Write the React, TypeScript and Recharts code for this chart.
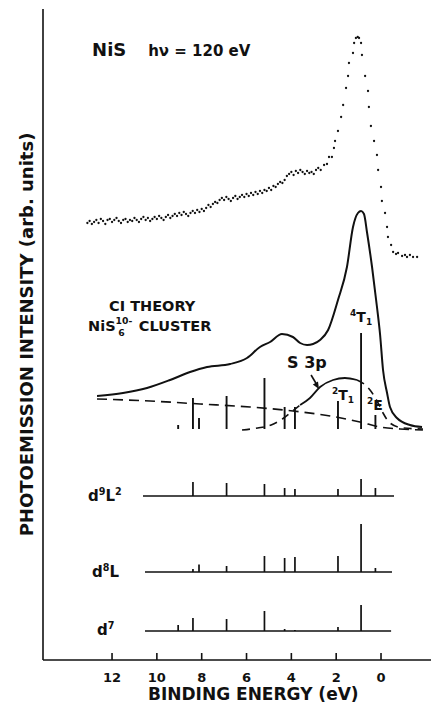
import { ComposedChart, Line, Scatter, XAxis, YAxis, ReferenceLine, ReferenceDot } from 'recharts';

const FONT = '"DejaVu Sans", "Liberation Sans", Arial, sans-serif';
const INK = '#111';

// binding energy axis (eV)
const energyTicks = [12, 10, 8, 6, 4, 2, 0];

// measured spectrum, NiS hv = 120 eV (dots)
const expEnergy = [
  13.1, 13.0, 12.9, 12.8, 12.7, 12.6, 12.5, 12.4, 12.3, 12.2,
  12.1, 12.0, 11.9, 11.8, 11.7, 11.6, 11.5, 11.4, 11.3, 11.2,
  11.1, 11.0, 10.9, 10.8, 10.7, 10.6, 10.5, 10.4, 10.3, 10.2,
  10.1, 10.0, 9.9, 9.8, 9.7, 9.6, 9.5, 9.4, 9.3, 9.2,
  9.1, 9.0, 8.9, 8.8, 8.7, 8.6, 8.5, 8.4, 8.3, 8.2,
  8.1, 8.0, 7.9, 7.8, 7.7, 7.6, 7.5, 7.4, 7.3, 7.2,
  7.1, 7.0, 6.9, 6.8, 6.7, 6.6, 6.5, 6.4, 6.3, 6.2,
  6.1, 6.0, 5.9, 5.8, 5.7, 5.6, 5.5, 5.4, 5.3, 5.2,
  5.1, 5.0, 4.9, 4.8, 4.7, 4.6, 4.5, 4.4, 4.3, 4.2,
  4.1, 4.0, 3.9, 3.8, 3.7, 3.6, 3.5, 3.4, 3.3, 3.2,
  3.1, 3.0, 2.9, 2.8,
  2.69, 2.54, 2.41, 2.32, 2.19, 2.1, 2.05, 1.92, 1.78, 1.69,
  1.56, 1.47, 1.43, 1.25, 1.2, 1.12, 1.04, 0.98, 0.89, 0.85,
  0.71, 0.58, 0.54, 0.45, 0.31, 0.18, 0.13, 0.0, -0.04, -0.18,
  -0.27, -0.31, -0.45, -0.54, -0.67, -0.76, -0.94, -1.07, -1.16, -1.29,
  -1.43, -1.61,
];
const expIntensity = [
  437, 439, 436, 438, 440, 437, 441, 439, 436, 440,
  441, 438, 440, 442, 439, 437, 440, 441, 438, 440,
  439, 442, 440, 438, 441, 443, 440, 442, 439, 441,
  443, 441, 444, 442, 440, 443, 445, 442, 444, 446,
  444, 447, 445, 448, 446, 444, 447, 449, 447, 450,
  448, 451, 449, 452, 455, 453, 456, 458, 457, 460,
  462, 460, 463, 461, 459, 462, 464, 461, 463, 465,
  463, 466, 464, 467, 465, 468, 466, 469, 467, 470,
  469, 472, 470, 474, 473, 476, 478, 477, 480, 484,
  486, 488, 485, 489, 487, 490, 488, 486, 489, 487,
  488, 486, 490, 492,
  490, 495, 496, 503, 503, 512, 519, 529, 543, 555,
  572, 584, 597, 607, 617, 622, 623, 622, 617, 605,
  584, 569, 553, 534, 519, 505, 490, 473, 459, 447,
  433, 423, 415, 408, 406, 407, 404, 405, 403, 405,
  403, 403,
];

// CI theory, NiS6 10- cluster (broadened)
const theoryEnergy = [
  12.67, 11.51, 10.44, 9.41, 8.52, 7.76, 6.73, 5.98, 5.4, 4.95, 4.42, 3.93, 3.61, 3.3, 3.03, 2.72, 2.36,
  1.92, 1.52, 1.25, 1.03, 0.89, 0.76, 0.62, 0.4, 0.18, 0.04, -0.09, -0.27, -0.4, -0.71, -1.29, -1.83,
];
const theoryIntensity = [
  264, 267, 272, 280, 288, 293, 296, 302, 313, 318, 326, 323, 317, 315, 316, 320, 330,
  360, 393, 433, 447, 449, 446, 427, 393, 353, 325, 290, 267, 253, 242, 235, 233,
];

// background (dashed)
const bgEnergy = [12.67, 10.3, 8.07, 5.84, 3.93, 2.27, 0.94, 0.04, -0.85, -1.87];
const bgIntensity = [261, 259, 256, 253, 249, 244, 238, 233, 231, 230];

// S 3p band
const s3pTailEnergy = [6.2, 5.5, 4.9, 4.4, 4.0, 3.61];
const s3pTailIntensity = [230, 232, 235, 241, 248, 255];
const s3pEnergy = [3.61, 3.17, 2.72, 2.14, 1.61, 1.07];
const s3pIntensity = [255, 262, 273, 280, 282, 280];
const s3pRightEnergy = [1.07, 0.76, 0.49, 0.13, -0.09, -0.4, -0.98, -1.87];
const s3pRightIntensity = [280, 276, 270, 257, 247, 237, 232, 231];

// final-state lines (eV) and weights
const lineEnergy = [9.05, 8.39, 8.12, 6.89, 5.2, 4.3, 3.84, 1.92, 0.89, 0.25];
const theoryWeights = [4, 31, 11, 33, 51, 22, 22, 28, 96, 14];
const d9L2Weights = [0, 14, 0, 13, 12, 8, 7, 7, 17, 8];
const d8LWeights = [0, 3, 7.5, 6, 16, 14, 15, 16, 48, 4];
const d7Weights = [6, 13, 0, 12, 20, 2, 1, 4, 26, 0];

const zip = (es: number[], is: number[]) => es.map((e, k) => ({ e, i: is[k] }));

const stickTrace = (w: number[], base: number, from: number, to: number) => {
  const pts = [{ e: from, i: base }];
  lineEnergy.forEach((e, k) => {
    if (w[k] > 0) pts.push({ e, i: base }, { e, i: base + w[k] }, { e, i: base });
  });
  pts.push({ e: to, i: base });
  return pts;
};

const expData = zip(expEnergy, expIntensity);
const theoryData = zip(theoryEnergy, theoryIntensity);
const bgData = zip(bgEnergy, bgIntensity);
const s3pTail = zip(s3pTailEnergy, s3pTailIntensity);
const s3pData = zip(s3pEnergy, s3pIntensity);
const s3pRight = zip(s3pRightEnergy, s3pRightIntensity);
const d9L2Data = stickTrace(d9L2Weights, 164, 10.62, -0.58);
const d8LData = stickTrace(d8LWeights, 88, 10.53, -0.49);
const d7Data = stickTrace(d7Weights, 29, 10.53, -0.45);
const THEORY_BASE = 231;

type Part = { t: string; sup?: boolean; sub?: boolean; dx?: number; lift?: number };

const note = (parts: Part[], size: number, anchor: 'start' | 'middle' = 'start') => (p: any) => {
  let cur = 0;
  return (
    <text x={p.cx} y={p.cy} fontSize={size} fontWeight="bold" fontFamily={FONT} fill={INK} textAnchor={anchor}>
      {parts.map((q, k) => {
        const target = q.lift !== undefined ? q.lift : q.sup ? -size * 0.42 : q.sub ? size * 0.22 : 0;
        const dy = target - cur;
        cur = target;
        return (
          <tspan key={k} dy={dy} dx={q.dx} fontSize={q.sup || q.sub ? size * 0.64 : size}>
            {q.t}
          </tspan>
        );
      })}
    </text>
  );
};

const BottomTick = (props: any) => {
  const { x, y, payload } = props;
  return (
    <g>
      <line x1={x} x2={x} y1={y} y2={y - 7} stroke={INK} strokeWidth={1.6} />
      <text x={x} y={y + 22} textAnchor="middle" fontSize={13} fontWeight="bold" fontFamily={FONT} fill={INK}>
        {payload.value}
      </text>
    </g>
  );
};

const TopTick = (props: any) => {
  const { x, y } = props;
  return <line x1={x} x2={x} y1={y} y2={y + 7} stroke={INK} strokeWidth={1.6} />;
};

const Dot = (p: any) => <circle cx={p.cx} cy={p.cy} r={1.15} fill={INK} />;

const ArrowHead = (p: any) => (
  <polygon
    points={`${p.cx},${p.cy} ${p.cx - 6.1},${p.cy - 4.6} ${p.cx - 0.9},${p.cy - 7.6}`}
    fill={INK}
  />
);

export default function App() {
  return (
    <div style={{ position: 'absolute', left: 0, top: 0, background: '#fff' }}>
      <ComposedChart width={431} height={704} margin={{ top: 9, right: 0, bottom: 0, left: 0 }}>
        <XAxis
          dataKey="e"
          type="number"
          domain={[-2.23, 15.08]}
          reversed
          allowDataOverflow
          ticks={energyTicks}
          height={44}
          tickSize={0}
          tickMargin={0}
          tickLine={false}
          tick={<BottomTick />}
          axisLine={{ stroke: INK, strokeWidth: 1.6 }}
          label={(lp: any) => {
            const vb = lp.viewBox;
            return (
              <text
                x={vb.x + vb.width * 0.542}
                y={vb.y + 40}
                textAnchor="middle"
                fontSize={17}
                fontWeight="bold"
                fontFamily={FONT}
                fill={INK}
              >
                BINDING ENERGY (eV)
              </text>
            );
          }}
        />
        <XAxis
          xAxisId="top"
          orientation="top"
          dataKey="e"
          type="number"
          domain={[-2.23, 15.08]}
          reversed
          allowDataOverflow
          ticks={energyTicks}
          height={0}
          tickSize={0}
          tickMargin={0}
          tickLine={false}
          tick={<TopTick />}
          axisLine={{ stroke: INK, strokeWidth: 1.6 }}
        />
        <YAxis
          type="number"
          domain={[0, 651]}
          allowDataOverflow
          width={43}
          tick={false}
          tickLine={false}
          axisLine={{ stroke: INK, strokeWidth: 1.6 }}
          label={(lp: any) => {
            const vb = lp.viewBox;
            const cx = vb.x + 26;
            const cy = vb.y + vb.height / 2;
            return (
              <text
                x={cx}
                y={cy}
                transform={`rotate(-90, ${cx}, ${cy})`}
                textAnchor="middle"
                dominantBaseline="central"
                fontSize={18}
                fontWeight="bold"
                fontFamily={FONT}
                fill={INK}
              >
                PHOTOEMISSION INTENSITY (arb. units)
              </text>
            );
          }}
        />

        <Scatter data={expData} dataKey="i" shape={<Dot />} isAnimationActive={false} />

        <Line data={theoryData} dataKey="i" type="monotone" stroke={INK} strokeWidth={2} dot={false} activeDot={false} isAnimationActive={false} />
        <Line data={bgData} dataKey="i" type="monotone" stroke={INK} strokeWidth={1.6} strokeDasharray="10 6" dot={false} activeDot={false} isAnimationActive={false} />
        <Line data={s3pTail} dataKey="i" type="monotone" stroke={INK} strokeWidth={1.6} strokeDasharray="8 6" dot={false} activeDot={false} isAnimationActive={false} />
        <Line data={s3pData} dataKey="i" type="monotone" stroke={INK} strokeWidth={1.8} dot={false} activeDot={false} isAnimationActive={false} />
        <Line data={s3pRight} dataKey="i" type="monotone" stroke={INK} strokeWidth={1.6} strokeDasharray="8 6" dot={false} activeDot={false} isAnimationActive={false} />

        {lineEnergy.map((e, k) => (
          <ReferenceLine
            key={`th${k}`}
            segment={[{ x: e, y: THEORY_BASE }, { x: e, y: THEORY_BASE + theoryWeights[k] }]}
            stroke={INK}
            strokeWidth={1.9}
            ifOverflow="visible"
          />
        ))}

        <Line data={d9L2Data} dataKey="i" type="linear" stroke={INK} strokeWidth={1.7} dot={false} activeDot={false} isAnimationActive={false} />
        <Line data={d8LData} dataKey="i" type="linear" stroke={INK} strokeWidth={1.7} dot={false} activeDot={false} isAnimationActive={false} />
        <Line data={d7Data} dataKey="i" type="linear" stroke={INK} strokeWidth={1.7} dot={false} activeDot={false} isAnimationActive={false} />

        <ReferenceLine segment={[{ x: 3.12, y: 285 }, { x: 2.83, y: 274 }]} stroke={INK} strokeWidth={1.6} ifOverflow="visible" />
        <ReferenceDot x={2.77} y={271} r={0} ifOverflow="visible" shape={ArrowHead} />

        <ReferenceDot x={12.89} y={604} r={0} ifOverflow="visible" shape={note([{ t: 'NiS' }], 18)} />
        <ReferenceDot x={10.39} y={604} r={0} ifOverflow="visible" shape={note([{ t: 'hν = 120 eV' }], 15)} />
        <ReferenceDot x={10.21} y={349} r={0} ifOverflow="visible" shape={note([{ t: 'CI THEORY' }], 14.5, 'middle')} />
        <ReferenceDot
          x={13.07}
          y={329}
          r={0}
          ifOverflow="visible"
          shape={note(
            [
              { t: 'NiS' },
              { t: '10-', sup: true, lift: -7.5 },
              { t: '6', sub: true, lift: 4.5, dx: -14 },
              { t: ' CLUSTER', dx: 9 },
            ],
            14.5,
          )}
        />
        <ReferenceDot x={4.19} y={292} r={0} ifOverflow="visible" shape={note([{ t: 'S 3p' }], 16)} />
        <ReferenceDot x={1.38} y={338} r={0} ifOverflow="visible" shape={note([{ t: '4', sup: true }, { t: 'T' }, { t: '1', sub: true }], 14)} />
        <ReferenceDot x={2.19} y={260} r={0} ifOverflow="visible" shape={note([{ t: '2', sup: true }, { t: 'T' }, { t: '1', sub: true }], 14)} />
        <ReferenceDot x={0.62} y={250} r={0} ifOverflow="visible" shape={note([{ t: '2', sup: true }, { t: 'E' }], 14)} />
        <ReferenceDot x={13.07} y={159} r={0} ifOverflow="visible" shape={note([{ t: 'd' }, { t: '9', sup: true }, { t: 'L' }, { t: '2', sup: true }], 15)} />
        <ReferenceDot x={12.89} y={83} r={0} ifOverflow="visible" shape={note([{ t: 'd' }, { t: '8', sup: true }, { t: 'L' }], 15)} />
        <ReferenceDot x={12.67} y={25} r={0} ifOverflow="visible" shape={note([{ t: 'd' }, { t: '7', sup: true }], 15)} />
      </ComposedChart>
    </div>
  );
}
